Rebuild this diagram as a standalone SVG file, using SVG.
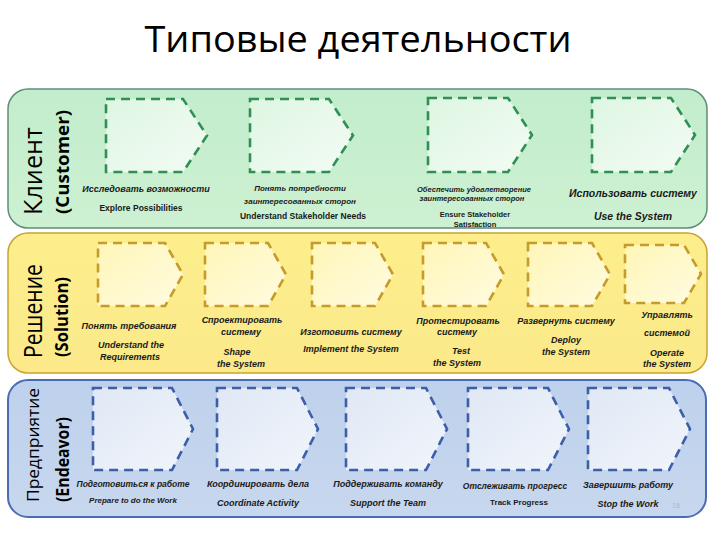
<svg xmlns="http://www.w3.org/2000/svg" width="720" height="540" viewBox="0 0 720 540">
<defs>
<linearGradient id="gG" x1="0" y1="0" x2="0" y2="1"><stop offset="0" stop-color="#c2edcc"/><stop offset="1" stop-color="#cdf1d2"/></linearGradient>
<linearGradient id="gY" x1="0" y1="0" x2="0" y2="1"><stop offset="0" stop-color="#fdee8c"/><stop offset="1" stop-color="#fbe98a"/></linearGradient>
<linearGradient id="gB" x1="0" y1="0" x2="0" y2="1"><stop offset="0" stop-color="#bed1ec"/><stop offset="1" stop-color="#c7d7ee"/></linearGradient>
<linearGradient id="sG" x1="0" y1="0" x2="1" y2="1"><stop offset="0" stop-color="#def6e2"/><stop offset="1" stop-color="#f3fcf4"/></linearGradient>
<linearGradient id="sY" x1="0" y1="0" x2="1" y2="1"><stop offset="0" stop-color="#fff6b8"/><stop offset="1" stop-color="#fffbe0"/></linearGradient>
<linearGradient id="sB" x1="0" y1="0" x2="1" y2="1"><stop offset="0" stop-color="#e0e8f5"/><stop offset="1" stop-color="#f1f5fb"/></linearGradient>
</defs>
<style>
.title{font-family:"Open Sans","Liberation Sans",sans-serif;font-size:36px;fill:#000}
.lane{font-family:"Open Sans","Liberation Sans",sans-serif;fill:#000}
.laneB{font-family:"Open Sans","Liberation Sans",sans-serif;font-weight:bold;fill:#000}
.ru{font-family:"Liberation Sans",sans-serif;font-style:italic;font-weight:bold;fill:#1a1a1a;text-anchor:middle}
.en{font-family:"Liberation Sans",sans-serif;font-weight:bold;fill:#1a1a1a;text-anchor:middle}
.eni{font-family:"Liberation Sans",sans-serif;font-style:italic;font-weight:bold;fill:#1a1a1a;text-anchor:middle}
.pg{stroke-width:2.6;stroke-dasharray:9 6;stroke:#2f8f55;fill:url(#sG)}
.py{stroke-width:2.6;stroke-dasharray:9 6;stroke:#c59b2a;fill:url(#sY)}
.pb{stroke-width:2.6;stroke-dasharray:9 6;stroke:#3d5ea8;fill:url(#sB)}
</style>
<rect width="720" height="540" fill="#ffffff"/>
<text class="title" x="358" y="52" text-anchor="middle" textLength="427" lengthAdjust="spacingAndGlyphs">Типовые деятельности</text>

<g id="lane-customer">
<rect x="8" y="89" width="699" height="139" rx="20" fill="url(#gG)" stroke="#5d8f78" stroke-width="1.5"/>
<text class="lane" transform="translate(42,215) rotate(-90)" font-size="26" textLength="88" lengthAdjust="spacingAndGlyphs">Клиент</text>
<text class="laneB" transform="translate(69,214) rotate(-90)" font-size="17" textLength="104" lengthAdjust="spacingAndGlyphs">(Customer)</text>
</g>
<g id="lane-solution">
<rect x="8" y="233" width="699" height="140" rx="20" fill="url(#gY)" stroke="#c9a430" stroke-width="1.5"/>
<text class="lane" transform="translate(42,358) rotate(-90)" font-size="25" textLength="94" lengthAdjust="spacingAndGlyphs">Решение</text>
<text class="laneB" transform="translate(68,357) rotate(-90)" font-size="17" textLength="80" lengthAdjust="spacingAndGlyphs">(Solution)</text>
</g>
<g id="lane-endeavor">
<rect x="8" y="380" width="698" height="137" rx="20" fill="url(#gB)" stroke="#4a6db2" stroke-width="2"/>
<text class="lane" transform="translate(39,502) rotate(-90)" font-size="17" textLength="114" lengthAdjust="spacingAndGlyphs">Предприятие</text>
<text class="laneB" transform="translate(69,502) rotate(-90)" font-size="18" textLength="85" lengthAdjust="spacingAndGlyphs">(Endeavor)</text>
</g>

<g id="explore">
<path class="pg" d="M106,99 H183 L207,135.5 L183,172 H106 Z"/>
<text class="ru" x="146" y="192" font-size="9">Исследовать возможности</text>
<text class="en" x="141" y="211" font-size="8.5">Explore Possibilities</text>
</g>
<g id="understand-needs">
<path class="pg" d="M250,99 H329 L353,135.5 L329,172 H250 Z"/>
<text class="ru" x="300" y="191" font-size="8">Понять потребности</text>
<text class="ru" x="300" y="204" font-size="8">заинтересованных сторон</text>
<text class="en" x="303" y="219" font-size="8.5">Understand Stakeholder Needs</text>
</g>
<g id="ensure-satisfaction">
<path class="pg" d="M428,98 H508 L532,135 L508,172 H428 Z"/>
<text class="ru" x="474" y="192" font-size="7.5">Обеспечить удовлетворение</text>
<text class="ru" x="472" y="201" font-size="7.5">заинтересованных сторон</text>
<text class="en" x="475" y="217" font-size="7.5">Ensure Stakeholder</text>
<text class="en" x="475" y="227" font-size="7.5">Satisfaction</text>
</g>
<g id="use-system">
<path class="pg" d="M592,98 H671 L695,135 L671,172 H592 Z"/>
<text class="ru" x="633" y="197" font-size="10.5">Использовать систему</text>
<text class="eni" x="633" y="220" font-size="10.5">Use the System</text>
</g>

<g id="understand-req">
<path class="py" d="M98,243 H165 L183,274.5 L165,306 H98 Z"/>
<text class="ru" x="129" y="329" font-size="9">Понять требования</text>
<text class="eni" x="131" y="348" font-size="9">Understand the</text>
<text class="eni" x="130" y="360" font-size="9">Requirements</text>
</g>
<g id="shape-system">
<path class="py" d="M205,243 H268 L286,274.5 L268,306 H205 Z"/>
<text class="ru" x="242" y="323" font-size="9">Спроектировать</text>
<text class="ru" x="241" y="335" font-size="9">систему</text>
<text class="eni" x="237" y="355" font-size="9">Shape</text>
<text class="eni" x="241" y="367" font-size="9">the System</text>
</g>
<g id="implement-system">
<path class="py" d="M312,243 H375 L393,274.5 L375,306 H312 Z"/>
<text class="ru" x="351" y="335" font-size="9">Изготовить систему</text>
<text class="eni" x="351" y="352" font-size="9">Implement the System</text>
</g>
<g id="test-system">
<path class="py" d="M423,243 H486 L504,274.5 L486,306 H423 Z"/>
<text class="ru" x="458" y="324" font-size="9">Протестировать</text>
<text class="ru" x="457" y="335" font-size="9">систему</text>
<text class="eni" x="461" y="354" font-size="9">Test</text>
<text class="eni" x="457" y="366" font-size="9">the System</text>
</g>
<g id="deploy-system">
<path class="py" d="M528,243 H592 L610,274.5 L592,306 H528 Z"/>
<text class="ru" x="566" y="324" font-size="9">Развернуть систему</text>
<text class="eni" x="566" y="343" font-size="9">Deploy</text>
<text class="eni" x="566" y="355" font-size="9">the System</text>
</g>
<g id="operate-system">
<path class="py" d="M625,245 H684 L701,274 L684,303 H625 Z"/>
<text class="ru" x="667" y="318" font-size="9">Управлять</text>
<text class="ru" x="667" y="336" font-size="9">системой</text>
<text class="eni" x="667" y="356" font-size="9">Operate</text>
<text class="eni" x="667" y="367" font-size="9">the System</text>
</g>

<g id="prepare-work">
<path class="pb" d="M93,388 H172 L193,429 L172,470 H93 Z"/>
<text class="ru" x="133" y="487" font-size="8.5">Подготовиться к работе</text>
<text class="eni" x="133" y="503" font-size="8">Prepare to do the Work</text>
</g>
<g id="coordinate-activity">
<path class="pb" d="M217,388 H297 L318,429 L297,470 H217 Z"/>
<text class="ru" x="258" y="487" font-size="9">Координировать дела</text>
<text class="eni" x="258" y="506" font-size="9">Coordinate Activity</text>
</g>
<g id="support-team">
<path class="pb" d="M346,388 H426 L447,429 L426,470 H346 Z"/>
<text class="ru" x="388" y="487" font-size="9">Поддерживать команду</text>
<text class="eni" x="388" y="506" font-size="9">Support the Team</text>
</g>
<g id="track-progress">
<path class="pb" d="M468,388 H548 L569,429 L548,470 H468 Z"/>
<text class="ru" x="515" y="489" font-size="8.5">Отслеживать прогресс</text>
<text class="en" x="519" y="505" font-size="8">Track Progress</text>
</g>
<g id="stop-work">
<path class="pb" d="M588,388 H669 L690,429 L669,470 H588 Z"/>
<text class="ru" x="628" y="488" font-size="9">Завершить работу</text>
<text class="eni" x="628" y="507" font-size="9">Stop the Work</text>
</g>
<g id="connectors"></g>
<text x="672" y="508" font-family="Liberation Sans,sans-serif" font-size="7" fill="#a9b6c8">18</text>
</svg>
